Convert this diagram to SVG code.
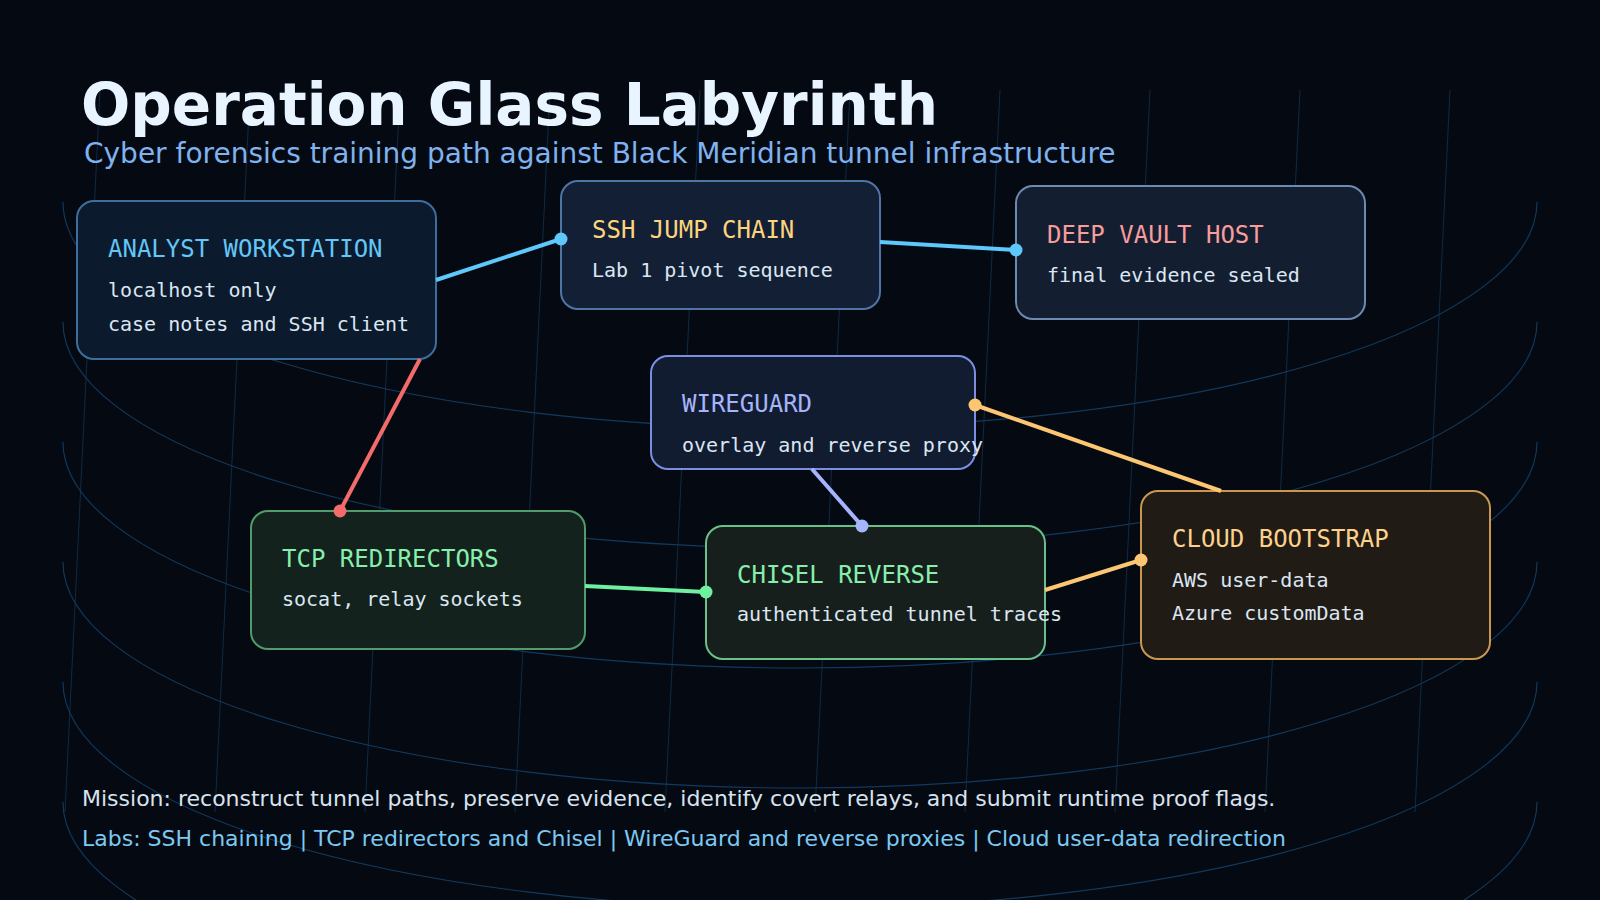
<svg xmlns="http://www.w3.org/2000/svg" width="1600" height="900" viewBox="0 0 1600 900">
  <defs>
    <style>
      .grid-v { stroke: #0e2a45; stroke-width: 1; fill: none; }
      .grid-a { stroke: #123a60; stroke-width: 1.1; fill: none; }
      .node rect { stroke-width: 2; }
      .ntitle { font-family: "DejaVu Sans Mono", "Liberation Mono", monospace; font-size: 24px; }
      .nsub { font-family: "DejaVu Sans Mono", "Liberation Mono", monospace; font-size: 20px; fill: #dbe6f2; }
      .conn { fill: none; stroke-width: 4; stroke-linecap: butt; }
    </style>
  </defs>
  <rect x="0" y="0" width="1600" height="900" fill="#050a12"/>

  <g id="grid">
    <line class="grid-v" x1="100" y1="90" x2="65" y2="812"/>
    <line class="grid-v" x1="250" y1="90" x2="215" y2="812"/>
    <line class="grid-v" x1="400" y1="90" x2="365" y2="812"/>
    <line class="grid-v" x1="550" y1="90" x2="515" y2="812"/>
    <line class="grid-v" x1="700" y1="90" x2="665" y2="812"/>
    <line class="grid-v" x1="850" y1="90" x2="815" y2="812"/>
    <line class="grid-v" x1="1000" y1="90" x2="965" y2="812"/>
    <line class="grid-v" x1="1150" y1="90" x2="1115" y2="812"/>
    <line class="grid-v" x1="1300" y1="90" x2="1265" y2="812"/>
    <line class="grid-v" x1="1450" y1="90" x2="1415" y2="812"/>
    <path class="grid-a" d="M 63 202 A 737 226 0 0 0 1537 202"/>
    <path class="grid-a" d="M 63 322 A 737 226 0 0 0 1537 322"/>
    <path class="grid-a" d="M 63 442 A 737 226 0 0 0 1537 442"/>
    <path class="grid-a" d="M 63 562 A 737 226 0 0 0 1537 562"/>
    <path class="grid-a" d="M 63 682 A 737 226 0 0 0 1537 682"/>
    <path class="grid-a" d="M 63 802 A 737 226 0 0 0 1537 802"/>
  </g>

  <g id="header">
    <text x="81" y="125" font-family="DejaVu Sans, Liberation Sans, sans-serif" font-weight="bold" font-size="58" fill="#e8f4ff">Operation Glass Labyrinth</text>
    <text x="84" y="163" font-family="DejaVu Sans, Liberation Sans, sans-serif" font-size="28" fill="#7fb2ef">Cyber forensics training path against Black Meridian tunnel infrastructure</text>
  </g>

  <g id="node-analyst" class="node">
    <rect x="77" y="201" width="359" height="158" rx="17" fill="#0b1a2c" stroke="#3d6e9e"/>
    <text class="ntitle" x="108" y="257" fill="#63c6f6">ANALYST WORKSTATION</text>
    <text class="nsub" x="108" y="297">localhost only</text>
    <text class="nsub" x="108" y="331">case notes and SSH client</text>
  </g>

  <g id="node-ssh" class="node">
    <rect x="561" y="181" width="319" height="128" rx="17" fill="#131f35" stroke="#4f74a6"/>
    <text class="ntitle" x="592" y="238" fill="#fcd47e">SSH JUMP CHAIN</text>
    <text class="nsub" x="592" y="277">Lab 1 pivot sequence</text>
  </g>

  <g id="node-vault" class="node">
    <rect x="1016" y="186" width="349" height="133" rx="17" fill="#141e31" stroke="#6d8bb0"/>
    <text class="ntitle" x="1047" y="243" fill="#f89c9c">DEEP VAULT HOST</text>
    <text class="nsub" x="1047" y="282">final evidence sealed</text>
  </g>

  <g id="node-wireguard" class="node">
    <rect x="651" y="356" width="324" height="113" rx="17" fill="#121c31" stroke="#7b8ee0"/>
    <text class="ntitle" x="682" y="412" fill="#a6b4fb">WIREGUARD</text>
    <text class="nsub" x="682" y="452">overlay and reverse proxy</text>
  </g>

  <g id="node-tcp" class="node">
    <rect x="251" y="511" width="334" height="138" rx="17" fill="#13221c" stroke="#519b6c"/>
    <text class="ntitle" x="282" y="567" fill="#86efac">TCP REDIRECTORS</text>
    <text class="nsub" x="282" y="606">socat, relay sockets</text>
  </g>

  <g id="node-chisel" class="node">
    <rect x="706" y="526" width="339" height="133" rx="17" fill="#171f1c" stroke="#69c088"/>
    <text class="ntitle" x="737" y="583" fill="#86efac">CHISEL REVERSE</text>
    <text class="nsub" x="737" y="621">authenticated tunnel traces</text>
  </g>

  <g id="node-cloud" class="node">
    <rect x="1141" y="491" width="349" height="168" rx="17" fill="#201b15" stroke="#c9974f"/>
    <text class="ntitle" x="1172" y="547" fill="#fcd18c">CLOUD BOOTSTRAP</text>
    <text class="nsub" x="1172" y="587">AWS user-data</text>
    <text class="nsub" x="1172" y="620">Azure customData</text>
  </g>

  <g id="connectors">
    <line class="conn" x1="436" y1="280" x2="561" y2="239" stroke="#5ec8fa"/>
    <circle cx="561" cy="239" r="6.5" fill="#5ec8fa"/>
    <line class="conn" x1="880" y1="242" x2="1016" y2="250" stroke="#5ec8fa"/>
    <circle cx="1016" cy="250" r="6.5" fill="#5ec8fa"/>
    <line class="conn" x1="420" y1="359" x2="340" y2="511" stroke="#f46b6b"/>
    <circle cx="340" cy="511" r="6.5" fill="#f46b6b"/>
    <line class="conn" x1="585" y1="586" x2="706" y2="592" stroke="#6ef0a0"/>
    <circle cx="706" cy="592" r="6.5" fill="#6ef0a0"/>
    <line class="conn" x1="812" y1="469" x2="862" y2="526" stroke="#a5b4fc" stroke-width="3"/>
    <circle cx="862" cy="526" r="6.5" fill="#a5b4fc"/>
    <line class="conn" x1="1221" y1="491" x2="975" y2="405" stroke="#fdc673"/>
    <circle cx="975" cy="405" r="6.5" fill="#fdc673"/>
    <line class="conn" x1="1045" y1="590" x2="1141" y2="560" stroke="#fdc673"/>
    <circle cx="1141" cy="560" r="6.5" fill="#fdc673"/>
  </g>

  <g id="footer">
    <text x="82" y="806" font-family="DejaVu Sans, Liberation Sans, sans-serif" font-size="22" fill="#d8e3f0">Mission: reconstruct tunnel paths, preserve evidence, identify covert relays, and submit runtime proof flags.</text>
    <text x="82" y="846" font-family="DejaVu Sans, Liberation Sans, sans-serif" font-size="22" fill="#7cc9f2">Labs: SSH chaining | TCP redirectors and Chisel | WireGuard and reverse proxies | Cloud user-data redirection</text>
  </g>
</svg>
